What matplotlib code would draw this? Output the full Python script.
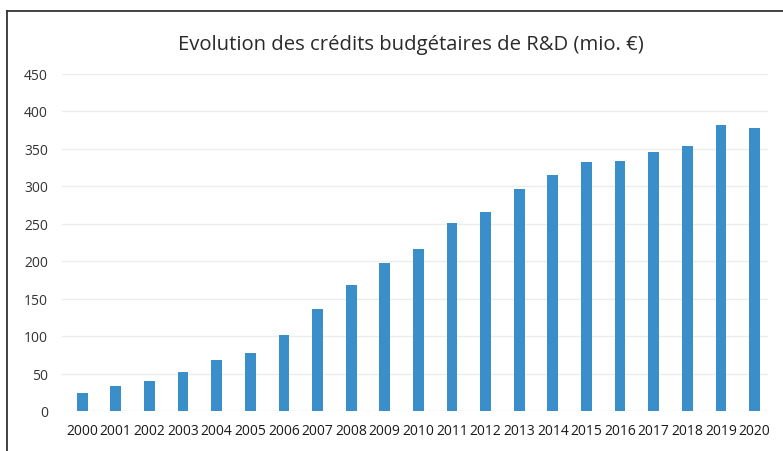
import matplotlib
matplotlib.use('Agg')
import matplotlib.pyplot as plt
from matplotlib.lines import Line2D

years = [str(y) for y in range(2000, 2021)]
credits = [24, 33, 40, 52, 68, 77, 102, 136, 168, 197, 216,
           251, 265, 296, 315, 332, 333, 345, 353, 381, 377]

plt.rcParams['font.family'] = ['Open Sans', 'DejaVu Sans']

fig = plt.figure(figsize=(7.83, 4.52), dpi=100)
ax = fig.add_axes([62 / 783, 1 - 412 / 452, 706 / 783, 337.5 / 452])

ax.bar(range(len(years)), credits, width=0.32, color='#3a8fcb', zorder=3)

ax.set_ylim(0, 450)
ax.set_yticks(range(0, 451, 50))
ax.set_xlim(-0.6, 20.4)
ax.set_xticks(range(len(years)))
ax.set_xticklabels(years, fontsize=10, color='#1a1a1a')
ax.tick_params(axis='y', labelsize=10, labelcolor='#333333', length=0, pad=10)
ax.tick_params(axis='x', length=0, pad=9)
ax.grid(axis='y', color='#ececec', linewidth=1, zorder=0)
for s in ax.spines.values():
    s.set_visible(False)

fig.text(411 / 783, 1 - 45 / 452, 'Evolution des crédits budgétaires de R&D (mio. €)',
         ha='center', va='center', fontsize=14.6, color='#2a2a2a')

# scanned frame lines (top and left)
fig.add_artist(Line2D([6.5 / 783, 1], [1 - 12 / 452, 1 - 12 / 452],
                      transform=fig.transFigure, color='#333333', linewidth=1.3))
fig.add_artist(Line2D([6.5 / 783, 6.5 / 783], [0, 1 - 12 / 452],
                      transform=fig.transFigure, color='#333333', linewidth=1.3))

fig.savefig('out.png', dpi=100)
